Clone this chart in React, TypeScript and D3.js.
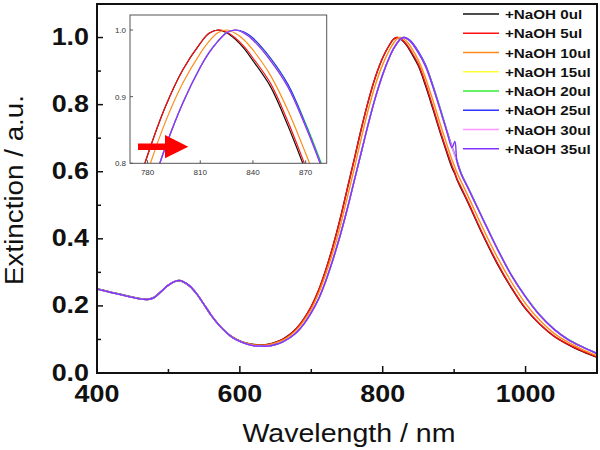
import React from "react";
import * as d3 from "d3";

const WAVELENGTHS = [400,420,440,460,470,480,490,500,510,515,520,530,540,550,560,570,580,590,600,610,620,630,640,650,660,670,680,690,700,710,720,730,740,750,760,770,780,790,800,810,815,820,825,830,835,840,850,860,870,880,890,897,901,904,910,920,940,960,980,1000,1020,1040,1060,1080,1100];

const NAOH_0 = [.251,.241,.231,.222,.220,.226,.244,.262,.273,.275,.272,.258,.234,.203,.171,.145,.123,.107,.096,.089,.085,.084,.086,.092,.101,.115,.135,.163,.199,.246,.306,.376,.456,.546,.636,.728,.812,.884,.940,.980,.995,1.000,.996,.986,.972,.954,.915,.856,.789,.720,.655,.612,.594,.576,.549,.505,.412,.327,.254,.191,.145,.109,.084,.064,.047];
const NAOH_5 = [.250,.240,.230,.221,.219,.225,.243,.262,.274,.276,.273,.259,.235,.204,.172,.145,.123,.106,.095,.088,.084,.083,.085,.091,.100,.114,.134,.162,.198,.245,.305,.375,.455,.545,.635,.727,.812,.884,.940,.980,.995,1.000,.997,.988,.975,.958,.920,.862,.795,.725,.660,.618,.597,.579,.553,.508,.415,.330,.256,.193,.146,.110,.085,.065,.048];
const NAOH_10 = [.250,.240,.230,.221,.219,.225,.243,.262,.274,.276,.273,.259,.235,.204,.172,.145,.123,.106,.095,.088,.084,.083,.084,.090,.098,.111,.130,.157,.190,.236,.293,.358,.433,.520,.608,.700,.787,.861,.920,.965,.983,.996,1.000,.995,.985,.970,.932,.879,.815,.746,.680,.636,.614,.597,.570,.525,.433,.347,.272,.207,.157,.118,.091,.070,.052];
const NAOH_15 = [.250,.240,.230,.221,.219,.225,.243,.262,.274,.276,.273,.259,.235,.204,.172,.145,.123,.105,.094,.086,.081,.080,.080,.085,.093,.105,.122,.147,.180,.220,.273,.336,.407,.486,.572,.658,.744,.823,.890,.944,.966,.983,.996,1.000,.995,.985,.954,.914,.855,.788,.718,.672,.648,.630,.592,.549,.460,.372,.292,.227,.172,.130,.099,.077,.058];
const NAOH_20 = [.250,.240,.230,.221,.219,.225,.243,.262,.274,.276,.273,.259,.235,.204,.172,.145,.123,.105,.094,.086,.081,.080,.080,.085,.093,.105,.122,.147,.180,.220,.273,.336,.407,.486,.572,.658,.744,.823,.890,.944,.966,.983,.996,1.000,.996,.987,.957,.918,.860,.793,.722,.675,.651,.633,.595,.551,.461,.373,.293,.228,.173,.131,.100,.078,.059];
const NAOH_25 = [.250,.240,.230,.221,.219,.225,.243,.262,.274,.276,.273,.259,.235,.204,.172,.145,.123,.105,.094,.086,.081,.080,.080,.085,.093,.105,.122,.147,.180,.220,.273,.336,.407,.486,.572,.658,.744,.823,.890,.944,.966,.983,.996,1.000,.997,.988,.958,.918,.858,.790,.720,.674,.650,.632,.594,.550,.460,.372,.292,.227,.172,.130,.099,.077,.058];
const NAOH_30 = [.250,.240,.230,.221,.219,.225,.243,.262,.274,.276,.273,.259,.235,.204,.172,.145,.123,.105,.094,.086,.081,.080,.080,.085,.093,.105,.122,.147,.180,.220,.273,.336,.407,.486,.572,.658,.744,.823,.890,.944,.966,.983,.996,1.000,.995,.985,.954,.914,.855,.788,.718,.672,.648,.630,.592,.549,.460,.372,.292,.227,.172,.130,.099,.077,.058];
const NAOH_35 = [.250,.240,.230,.221,.219,.225,.243,.262,.274,.276,.273,.259,.235,.204,.172,.145,.123,.105,.094,.086,.081,.080,.080,.085,.093,.105,.122,.147,.180,.220,.273,.336,.407,.486,.572,.658,.744,.823,.890,.944,.966,.983,.996,1.000,.995,.985,.954,.914,.855,.788,.718,.672,.690,.630,.592,.549,.460,.372,.292,.227,.172,.130,.099,.077,.058];

const SERIES_NAMES = ["+NaOH 0ul","+NaOH 5ul","+NaOH 10ul","+NaOH 15ul","+NaOH 20ul","+NaOH 25ul","+NaOH 30ul","+NaOH 35ul"];
const SERIES_VALUES = [NAOH_0, NAOH_5, NAOH_10, NAOH_15, NAOH_20, NAOH_25, NAOH_30, NAOH_35];
const SERIES_COLORS = ["#111111","#ff1010","#ff8c1a","#ffff33","#33ee33","#3333ff","#ff99ff","#8033ff"];

const X_MAJOR = [400, 600, 800, 1000];
const X_MINOR = [500, 700, 900];
const Y_MAJOR = [0, 0.2, 0.4, 0.6, 0.8, 1.0];
const Y_MINOR = [0.1, 0.3, 0.5, 0.7, 0.9];
const INSET_X_TICKS = [780, 810, 840, 870];
const INSET_Y_TICKS = [0.8, 0.9, 1.0];

const FONT = "'Liberation Sans', Arial, Helvetica, sans-serif";

export default function App() {
  const x = d3.scaleLinear().domain([400, 1100]).range([97, 597]);
  const y = d3.scaleLinear().domain([0, 1.1]).range([373, 4]);
  const ix = d3.scaleLinear().domain([770, 882]).range([130, 326.7]);
  const iy = d3.scaleLinear().domain([0.8, 1.0225]).range([163.3, 15]);

  const curve = d3.curveCatmullRom.alpha(0.5);
  const mainLine = d3.line<number>().x((_, i) => x(WAVELENGTHS[i])).y((d) => y(d)).curve(curve);
  const insetLine = d3.line<number>().x((_, i) => ix(WAVELENGTHS[i])).y((d) => iy(d)).curve(curve);

  const [x0, x1] = x.range();
  const [y0, y1] = y.range();
  const [ix0, ix1] = ix.range();
  const [iy0, iy1] = iy.range();

  return (
    <svg width={600} height={450} style={{ position: "absolute", left: 0, top: 0, background: "#fff" }} fontFamily={FONT}>
      <defs>
        <clipPath id="mainClip"><rect x={x0} y={y1} width={x1 - x0} height={y0 - y1} /></clipPath>
        <clipPath id="insetClip"><rect x={ix0} y={iy1} width={ix1 - ix0} height={iy0 - iy1} /></clipPath>
      </defs>
      <rect x={0} y={0} width={600} height={450} fill="#fff" />

      <g clipPath="url(#mainClip)">
        {SERIES_VALUES.map((vals, k) => (
          <path key={k} d={mainLine(vals) || ""} fill="none" stroke={SERIES_COLORS[k]} strokeWidth={1.4} />
        ))}
      </g>

      <rect x={ix0} y={iy1} width={ix1 - ix0} height={iy0 - iy1} fill="#fff" />
      <g clipPath="url(#insetClip)">
        {SERIES_VALUES.map((vals, k) => (
          <path key={k} d={insetLine(vals) || ""} fill="none" stroke={SERIES_COLORS[k]} strokeWidth={1.2} />
        ))}
      </g>
      <rect x={ix0} y={iy1} width={ix1 - ix0} height={iy0 - iy1} fill="none" stroke="#555" strokeWidth={1} />
      {INSET_X_TICKS.map((t) => (
        <g key={t}>
          <line x1={ix(t)} x2={ix(t)} y1={iy0} y2={iy0 - 3} stroke="#555" strokeWidth={1} />
          <text x={ix(t)} y={175} textAnchor="middle" fontSize={8} fill="#333">{t}</text>
        </g>
      ))}
      {INSET_Y_TICKS.map((t) => (
        <g key={t}>
          <line x1={ix0} x2={ix0 + 3} y1={iy(t)} y2={iy(t)} stroke="#555" strokeWidth={1} />
          <text x={126} y={iy(t) + 3} textAnchor="end" fontSize={8} fill="#333">{t.toFixed(1)}</text>
        </g>
      ))}
      <path d="M138,143.5 L165,143.5 L165,135 L188.3,146.7 L165,158.3 L165,150 L138,150 Z" fill="#ff0000" />

      <rect x={x0} y={y1} width={x1 - x0} height={y0 - y1} fill="none" stroke="#111" strokeWidth={2} />
      {X_MAJOR.map((t) => (
        <line key={t} x1={x(t)} x2={x(t)} y1={y0} y2={y0 - 7} stroke="#111" strokeWidth={1.5} />
      ))}
      {X_MINOR.map((t) => (
        <line key={t} x1={x(t)} x2={x(t)} y1={y0} y2={y0 - 4} stroke="#111" strokeWidth={1.5} />
      ))}
      {Y_MAJOR.map((t) => (
        <line key={t} x1={x0} x2={x0 + 6} y1={y(t)} y2={y(t)} stroke="#111" strokeWidth={1.5} />
      ))}
      {Y_MINOR.map((t) => (
        <line key={t} x1={x0} x2={x0 + 4} y1={y(t)} y2={y(t)} stroke="#111" strokeWidth={1.5} />
      ))}

      {Y_MAJOR.map((t) => (
        <text key={t} transform={`translate(89,${y(t) + 7.5}) scale(1.12,1)`} textAnchor="end" fontSize={24} fontWeight="bold" fill="#111">{t.toFixed(1)}</text>
      ))}
      {X_MAJOR.map((t) => (
        <text key={t} transform={`translate(${x(t)},402) scale(1.12,1)`} textAnchor="middle" fontSize={24} fontWeight="bold" fill="#111">{t}</text>
      ))}

      <text x={349} y={442} textAnchor="middle" fontSize={26} textLength={213} lengthAdjust="spacingAndGlyphs" fill="#111">Wavelength / nm</text>
      <text transform="translate(23,190) rotate(-90)" textAnchor="middle" fontSize={26} textLength={190} lengthAdjust="spacingAndGlyphs" fill="#111">Extinction / a.u.</text>

      {SERIES_NAMES.map((name, k) => {
        const ry = 14 + k * 19.25;
        return (
          <g key={name}>
            <line x1={463} x2={499} y1={ry} y2={ry} stroke={SERIES_COLORS[k]} strokeWidth={1.4} />
            <text transform={`translate(505,${ry + 5}) scale(1.17,1)`} fontSize={13} fontWeight="bold" fill="#111">{name}</text>
          </g>
        );
      })}
    </svg>
  );
}
